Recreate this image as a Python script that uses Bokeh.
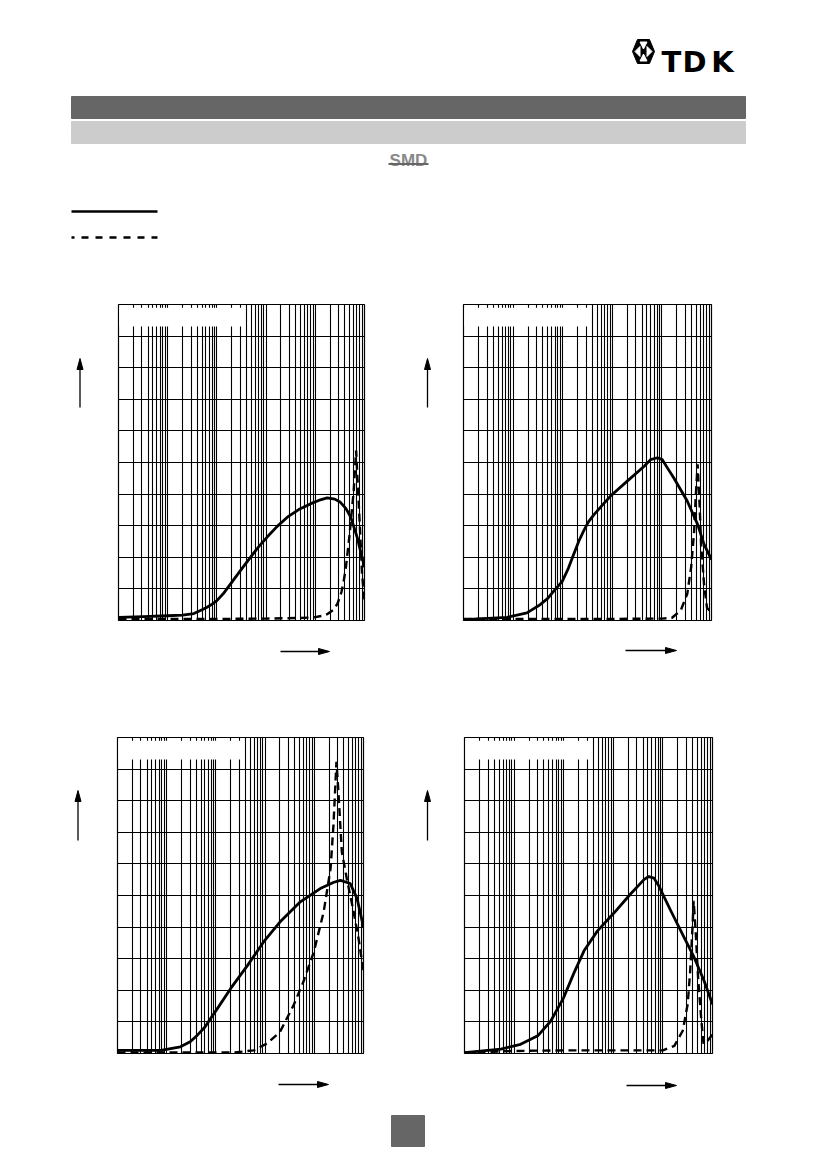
from bokeh.plotting import figure
from bokeh.layouts import column, row
from bokeh.models import FixedTicker, BoxAnnotation, Range1d
from bokeh.core.properties import value
from bokeh.embed import file_html
from bokeh.resources import INLINE

# ---------------- data ----------------
F_MIN, F_MAX = 0.01, 1000          # frequency axis, MHz (5 decades)
Z_MIN, Z_MAX = 0, 1000             # impedance axis, ohm
decades = [0.01, 0.1, 1, 10, 100]
x_ticks = [m * d for d in decades for m in range(1, 10)] + [1000]
y_ticks = list(range(0, 1001, 100))

c1_f_solid = [0.01, 0.032, 0.1, 0.2, 0.34, 0.5, 0.63, 0.8, 1.0, 1.4, 1.9, 3.0, 4.8, 7.1, 10.5, 16.6, 27, 46, 79, 117, 174, 250, 324, 417, 525, 708, 1000]
c1_z_solid = [10, 12, 15, 17, 22, 34, 42, 52, 63, 88, 116, 158, 200, 234, 264, 297, 327, 351, 369, 380, 388, 384, 374, 355, 327, 264, 169]
c1_f_dash = [0.01, 0.1, 1, 10, 50, 93, 140, 174, 230, 282, 340, 380, 420, 457, 500, 537, 603, 676, 741, 813, 891, 1000]
c1_z_dash = [5, 5, 5, 6, 8, 10, 15, 20, 33, 53, 90, 127, 170, 220, 275, 327, 410, 538, 410, 285, 148, 63]

c2_f_solid = [0.01, 0.076, 0.19, 0.35, 0.5, 0.66, 0.98, 1.3, 1.66, 2.1, 2.63, 3.3, 4.27, 6.3, 9.1, 20, 44, 59, 81, 102, 129, 174, 324, 525, 708, 1000]
c2_z_solid = [3, 10, 24, 50, 70, 93, 124, 165, 209, 250, 283, 312, 335, 365, 393, 441, 488, 509, 515, 509, 483, 451, 378, 304, 241, 193]
c2_f_dash = [0.01, 0.1, 1, 10, 100, 158, 240, 324, 389, 447, 479, 525, 575, 617, 708, 813, 900, 1000]
c2_z_dash = [5, 5, 5, 5, 6, 8, 32, 84, 169, 283, 388, 494, 367, 241, 114, 40, 33, 32]

c3_f_solid = [0.01, 0.076, 0.19, 0.3, 0.42, 0.6, 0.78, 1.07, 2.0, 4.4, 9.3, 20, 52, 132, 250, 339, 537, 741, 1000]
c3_z_solid = [10, 10, 21, 37, 58, 84, 111, 142, 206, 279, 353, 416, 480, 522, 542, 548, 538, 490, 400]
c3_f_dash = [0.01, 0.1, 1, 2.3, 5.9, 11, 20, 38, 60, 98, 155, 214, 245, 282, 309, 363, 457, 631, 794, 1000]
c3_z_dash = [3, 3, 3, 3, 10, 32, 68, 153, 227, 322, 448, 585, 722, 923, 828, 638, 554, 448, 364, 258]

c4_f_solid = [0.01, 0.054, 0.135, 0.3, 0.55, 1.0, 1.62, 2.57, 4.8, 10.5, 22, 42, 52, 66, 83, 145, 269, 427, 676, 1000]
c4_z_solid = [3, 14, 29, 56, 103, 177, 256, 325, 388, 446, 504, 551, 560, 555, 530, 451, 367, 304, 230, 156]
c4_f_dash = [0.01, 0.1, 1, 10, 100, 170, 251, 316, 355, 398, 417, 457, 513, 589, 661, 794, 955, 1000]
c4_z_dash = [3, 8, 10, 10, 10, 24, 72, 156, 261, 409, 483, 388, 240, 114, 30, 40, 56, 60]

FONT = "Liberation Sans"
PAGE_W = 817
FRAME_H = 316


def deco(x0, y0, w, h, fy0=None, fy1=None):
    """Blank figure whose data coordinates are page pixels (y downwards).
    fy0/fy1: page rows covered by its frame when Bokeh aligns it to a neighbour."""
    ya, yb = (y0, y0 + h) if fy0 is None else (fy0, fy1)
    f = figure(width=w, height=h, x_range=Range1d(x0, x0 + w), y_range=Range1d(yb, ya),
               x_axis_location=None, y_axis_location=None, toolbar_location=None,
               output_backend="svg", min_border=0, outline_line_color=None)
    f.grid.visible = False
    return f


def arrow(f, x0, y0, x1, y1):
    hl, hw = 11, 3
    if x0 == x1:
        d = -1 if y1 < y0 else 1
        f.line([x0, x0], [y0, y1 - d * hl], line_color="black", line_width=1.3)
        f.patch([x1, x1 + hw, x1 - hw], [y1, y1 - d * hl, y1 - d * hl], color="black")
    else:
        f.line([x0, x1 - hl], [y0, y0], line_color="black", line_width=1.3)
        f.patch([x1, x1 - hl, x1 - hl], [y1, y1 - hw, y1 + hw], color="black")


def chart_block(fs, zs, fd, zd, ox, oy, bl, fw, br, bt, yarr):
    H = bt + FRAME_H + 2
    yf = deco(ox, oy, bl - 2, H, oy + bt, oy + bt + FRAME_H)
    arrow(yf, *yarr)
    p = figure(x_axis_type="log", x_range=Range1d(F_MIN, F_MAX), y_range=Range1d(Z_MIN, Z_MAX),
               frame_width=fw, frame_height=FRAME_H,
               min_border_left=2, min_border_right=br, min_border_top=bt, min_border_bottom=2,
               x_axis_location=None, y_axis_location=None, toolbar_location=None,
               output_backend="svg", outline_line_color="black", outline_line_width=1.2,
               background_fill_color="white", border_fill_color="white")
    p.xgrid.ticker = FixedTicker(ticks=x_ticks)
    p.ygrid.ticker = FixedTicker(ticks=y_ticks)
    p.grid.grid_line_color = "black"
    p.grid.grid_line_width = 1.1
    p.grid.grid_line_alpha = 1
    # blank legend field in the upper left corner
    p.add_layout(BoxAnnotation(left=0.0104, right=3.3, bottom=930, top=990,
                               fill_color="white", fill_alpha=1, line_alpha=0))
    p.line(fs, zs, line_color="black", line_width=2.8, line_join="round")
    p.line(fd, zd, line_color="black", line_width=2.4, line_dash="8 5")
    return row(yf, p)


b1 = chart_block(c1_f_solid, c1_z_solid, c1_f_dash, c1_z_dash, 0, 290, 118, 246, 36, 14,
                 (79.5, 407, 79.5, 358))
b2 = chart_block(c2_f_solid, c2_z_solid, c2_f_dash, c2_z_dash, 400, 290, 63, 248, 106, 14,
                 (427, 407, 427, 358))
b3 = chart_block(c3_f_solid, c3_z_solid, c3_f_dash, c3_z_dash, 0, 680, 117, 246, 37, 57,
                 (77.5, 840, 77.5, 790))
b4 = chart_block(c4_f_solid, c4_z_solid, c4_f_dash, c4_z_dash, 400, 680, 64, 248, 105, 57,
                 (427, 840, 427, 790))

# ---------------- page header ----------------
hdr = deco(0, 0, PAGE_W, 290)

# logo emblem
hdr.patch([637, 649, 654, 649, 637, 632], [39, 39, 51, 63, 63, 51], color="black")
hdr.patch([639.5, 646.5, 643], [41.5, 41.5, 48.5], color="white")
hdr.patch([639.5, 646.5, 643], [60.5, 60.5, 53.5], color="white")
hdr.patch([634.5, 639.5, 639.5], [51, 46, 56], color="white")
hdr.patch([651.5, 646.5, 646.5], [51, 46, 56], color="white")
for ch, cx in (("T", 671), ("D", 694), ("K", 722)):
    hdr.text(x=[cx], y=[61], text=[ch], text_font=value("DejaVu Sans"), text_font_style="bold",
             text_font_size="29px", text_align="center", text_baseline="alphabetic",
             text_color="black")

hdr.quad(left=[71], right=[745], top=[96], bottom=[118], color="#666666")
hdr.quad(left=[71], right=[745], top=[121], bottom=[143], color="#cccccc")

hdr.text(x=[408], y=[160], text=["SMD"], text_font=value(FONT), text_font_style="bold",
         text_font_size="17px", text_align="center", text_baseline="alphabetic",
         text_color="#8a8a8a")
hdr.line([388, 428], [163.5, 163.5], line_color="#666666", line_width=1.8)

hdr.line([71, 157], [211, 211], line_color="black", line_width=2.6)
hdr.line([71, 157], [237, 237], line_color="black", line_width=2.6, line_dash="7 7",
         line_dash_offset=4)

# ---------------- strips below the charts ----------------
top_h = 14 + FRAME_H + 2
s1_y = 290 + top_h
strip1 = deco(0, s1_y, PAGE_W, 680 - s1_y)
arrow(strip1, 280, 651, 329, 651)
arrow(strip1, 625, 650, 676, 650)

bot_h = 57 + FRAME_H + 2
s2_y = 680 + bot_h
strip2 = deco(0, s2_y, PAGE_W, 1150 - s2_y)
arrow(strip2, 278, 1084, 328, 1084)
arrow(strip2, 626, 1085, 676, 1085)
strip2.quad(left=[391], right=[424], top=[1115], bottom=[1146], color="#666666")

page = column(hdr, row(b1, b2), strip1, row(b3, b4), strip2)
open("out.html", "w").write(file_html(page, INLINE))
